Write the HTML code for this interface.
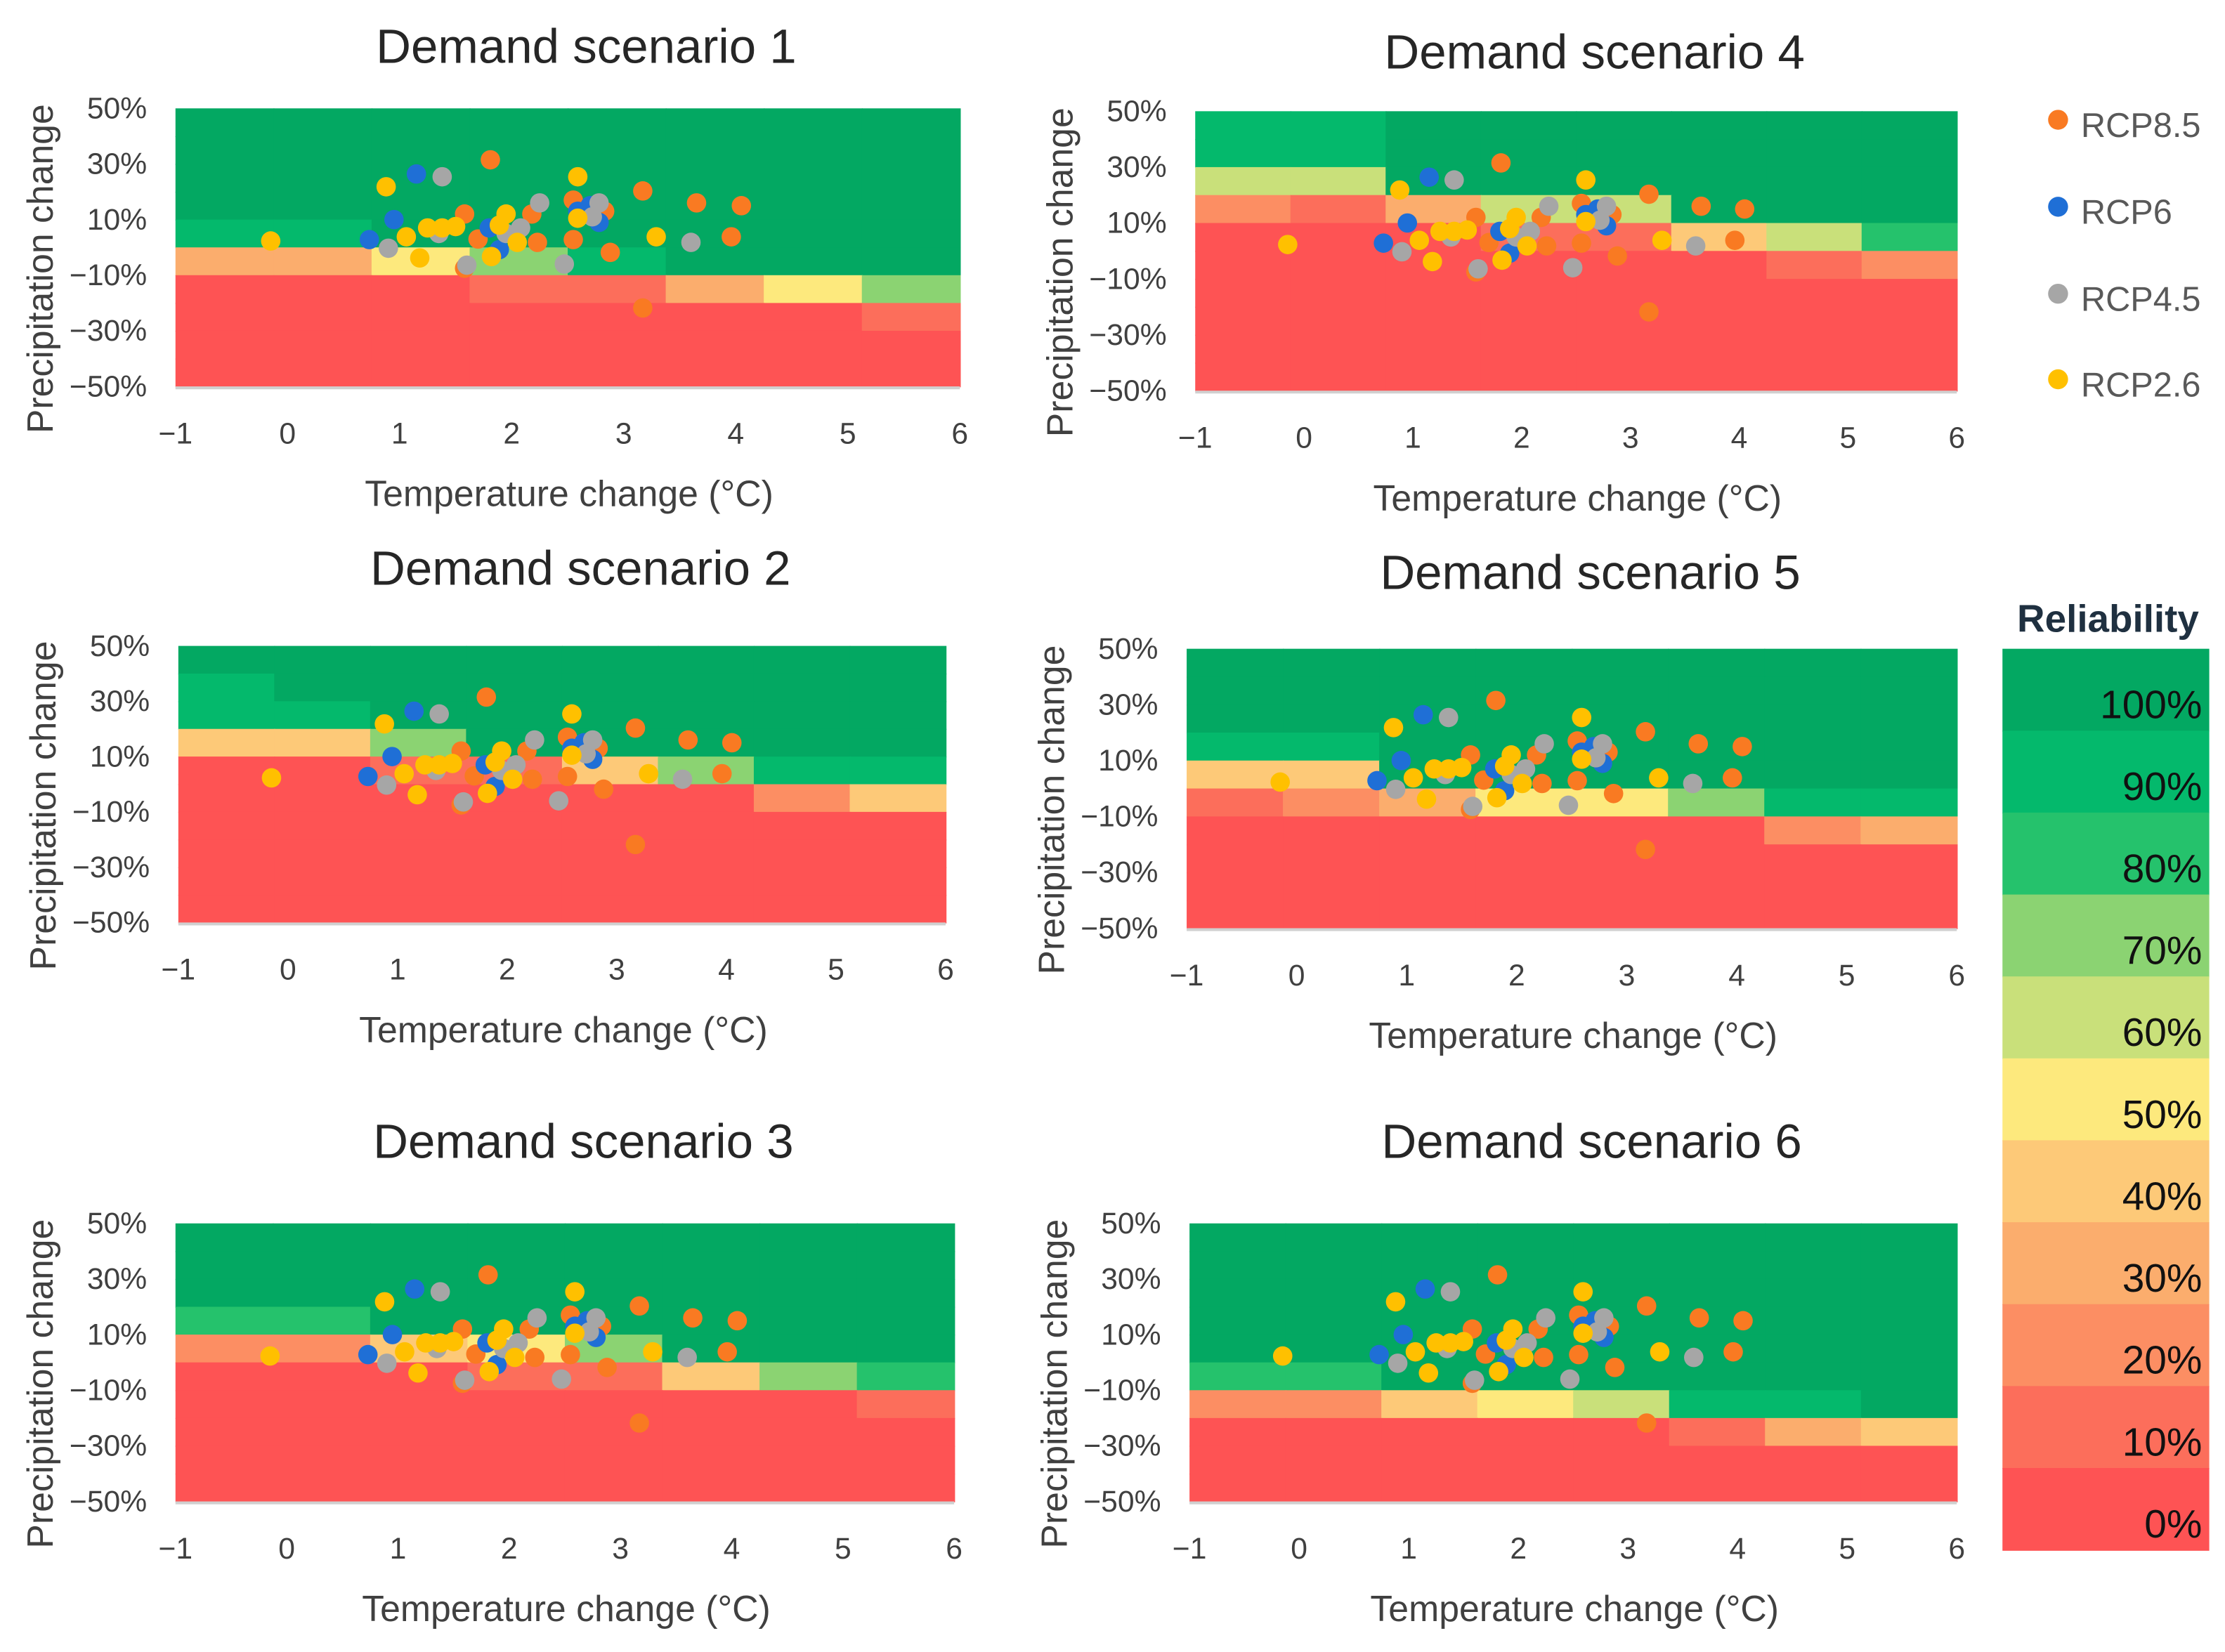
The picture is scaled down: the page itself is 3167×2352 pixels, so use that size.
<!DOCTYPE html>
<html><head><meta charset="utf-8">
<style>
html,body{margin:0;padding:0;background:#fff;}
svg{display:block;font-family:"Liberation Sans",sans-serif;}
</style></head>
<body>
<svg id="chart" width="3167" height="2352" viewBox="0 0 1560 1158.6" xmlns="http://www.w3.org/2000/svg"></svg>
<script>
// ---- data ----
const xTicks = [-1,0,1,2,3,4,5,6];
const yTicks = [50,30,10,-10,-30,-50];
const yTickLabels = ["50%","30%","10%","-10%","-30%","-50%"];
const legendLevels = [100,90,80,70,60,50,40,30,20,10,0];
const legendLabels = ["100%","90%","80%","70%","60%","50%","40%","30%","20%","10%","0%"];
const seriesNames = ["RCP8.5","RCP6","RCP4.5","RCP2.6"];
// reliability grids: 10 rows (50% to -50%, 10% steps) x 8 temperature columns
const grid1 = [
[100,100,100,100,100,100,100,100],[100,100,100,100,100,100,100,100],
[100,100,100,100,100,100,100,100],[100,100,100,100,100,100,100,100],
[90,90,100,100,100,100,100,100],[30,30,50,70,90,100,100,100],
[0,0,0,10,10,30,50,70],[0,0,0,0,0,0,0,10],[0,0,0,0,0,0,0,0],[0,0,0,0,0,0,0,0]];
const grid2 = [
[100,100,100,100,100,100,100,100],[90,100,100,100,100,100,100,100],
[90,90,100,100,100,100,100,100],[40,40,70,100,100,100,100,100],
[0,0,10,10,40,70,90,90],[0,0,0,0,0,0,20,40],
[0,0,0,0,0,0,0,0],[0,0,0,0,0,0,0,0],[0,0,0,0,0,0,0,0],[0,0,0,0,0,0,0,0]];
const grid3 = [
[100,100,100,100,100,100,100,100],[100,100,100,100,100,100,100,100],
[100,100,100,100,100,100,100,100],[80,80,100,100,100,100,100,100],
[20,20,40,50,70,100,100,100],[0,0,0,10,10,40,70,80],
[0,0,0,0,0,0,0,10],[0,0,0,0,0,0,0,0],[0,0,0,0,0,0,0,0],[0,0,0,0,0,0,0,0]];
const grid4 = [
[90,90,100,100,100,100,100,100],[90,90,100,100,100,100,100,100],
[60,60,100,100,100,100,100,100],[20,10,30,60,60,100,100,100],
[0,0,0,10,10,40,60,80],[0,0,0,0,0,0,10,20],
[0,0,0,0,0,0,0,0],[0,0,0,0,0,0,0,0],[0,0,0,0,0,0,0,0],[0,0,0,0,0,0,0,0]];
const grid5 = [
[100,100,100,100,100,100,100,100],[100,100,100,100,100,100,100,100],
[100,100,100,100,100,100,100,100],[90,90,100,100,100,100,100,100],
[40,40,100,100,100,100,100,100],[10,20,30,50,50,70,90,90],
[0,0,0,0,0,0,20,30],[0,0,0,0,0,0,0,0],[0,0,0,0,0,0,0,0],[0,0,0,0,0,0,0,0]];
const grid6 = [
[100,100,100,100,100,100,100,100],[100,100,100,100,100,100,100,100],
[100,100,100,100,100,100,100,100],[100,100,100,100,100,100,100,100],
[100,100,100,100,100,100,100,100],[80,80,100,100,100,100,100,100],
[20,20,40,50,60,90,90,100],[0,0,0,0,0,10,30,40],[0,0,0,0,0,0,0,0],[0,0,0,0,0,0,0,0]];
// projections (temperature change °C, precipitation change %)
const rcp85T = [1.81,3.17,3.65,4.05,3.96,2.88,2.55,2.55,2.65,1.58,2.18,1.70,2.23,3.17,1.58,2.83];
const rcp85P = [31.5,20.3,16,15,3.8,-1.8,2.8,17,12,12,12,3,1.8,-21.8,-7.5,13];
const rcp6T = [1.15,0.95,0.73,1.80,2.59,2.78,1.89,2.70];
const rcp6P = [26.4,10,2.8,7,13,9,-0.8,15];
const rcp45T = [1.38,0.90,2.25,2.47,3.60,1.60,2.78,2.08,2.72,1.95,1.35];
const rcp45P = [25.4,-0.3,16,-6,1.8,-6.4,16,7,11,5,5];
const rcp26T = [0.88,-0.15,2.59,1.18,3.29,1.06,1.25,1.38,1.89,1.82,2.05,2.59,1.95,1.50];
const rcp26P = [21.8,2.3,25.4,-3.8,3.8,3.8,7,7,8,-3.3,1.8,10.5,12,7.5];

const colors = {100:"#03a862",90:"#04b96c",80:"#25c26c",70:"#8bd372",60:"#c9e07a",50:"#fde97d",40:"#fdc978",30:"#fbad6d",20:"#fc8e63",10:"#fc6e5b",0:"#fe5354"};
const seriesColors = ["#f97a22","#1f6fd6","#a6a6a6","#ffc000"];

const NS="http://www.w3.org/2000/svg";
const svg=document.getElementById('chart');
function mk(tag,attrs,parent){const e=document.createElementNS(NS,tag);for(const k in attrs)e.setAttribute(k,attrs[k]);(parent||svg).appendChild(e);return e;}

const panels=[
 {title:"Demand scenario 1",grid:grid1,x0:123,x1:673,y0:76,y1:271,ty:33},
 {title:"Demand scenario 2",grid:grid2,x0:125,x1:663,y0:453,y1:647,ty:399},
 {title:"Demand scenario 3",grid:grid3,x0:123,x1:669,y0:858,y1:1053,ty:801},
 {title:"Demand scenario 4",grid:grid4,x0:838,x1:1372,y0:78,y1:274,ty:37},
 {title:"Demand scenario 5",grid:grid5,x0:832,x1:1372,y0:455,y1:651,ty:402},
 {title:"Demand scenario 6",grid:grid6,x0:834,x1:1372,y0:858,y1:1053,ty:801}
];
const seriesT=[rcp85T,rcp6T,rcp45T,rcp26T];
const seriesP=[rcp85P,rcp6P,rcp45P,rcp26P];

panels.forEach((p,i)=>{
  const g=mk('g',{});
  
  
  const sx=v=>p.x0+(v+1)/7*(p.x1-p.x0);
  const sy=v=>p.y0+(50-v)/100*(p.y1-p.y0);
  const t=mk('text',{x:(p.x0+p.x1)/2+13,y:p.ty+11,'text-anchor':'middle','font-size':34,fill:'#262626'},g);
  t.textContent=p.title;
  
  
  const cw=(p.x1-p.x0)/8;
  p.grid.forEach((row,r)=>row.forEach((v,c)=>{
    const rc=mk('rect',{x:p.x0+c*cw,y:sy(50-r*10),width:cw+0.6,height:sy(40-r*10)-sy(50-r*10)+0.6,fill:colors[v]},g);
    
    
  }));
  const ax=mk('line',{x1:p.x0,x2:p.x1,y1:p.y1+1,y2:p.y1+1,stroke:'#d0d0d0','stroke-width':2},g);
  
  
  xTicks.forEach(v=>{
    const tl=mk('text',{x:sx(v),y:p.y1+40,'text-anchor':'middle','font-size':21,fill:'#404040'},g);
    tl.textContent=v<0?'\u2212'+Math.abs(v):String(v);
    
    
  });
  yTicks.forEach((v,k)=>{
    const tl=mk('text',{x:p.x0-20,y:sy(v)+7,'text-anchor':'end','font-size':21,fill:'#404040'},g);
    tl.textContent=yTickLabels[k].replace('-','\u2212');
    
    
  });
  const xt=mk('text',{x:(p.x0+p.x1)/2+1,y:p.y1+84,'text-anchor':'middle','font-size':25.5,fill:'#404040'},g);
  xt.textContent='Temperature change (°C)';
  
  
  const cy=(p.y0+p.y1)/2+15, cx=p.x0-86;
  const yt=mk('text',{x:cx,y:cy,'text-anchor':'middle','font-size':25.5,fill:'#404040',transform:`rotate(-90 ${cx} ${cy})`},g);
  yt.textContent='Precipitation change';
  
  
  seriesT.forEach((ts,s)=>ts.forEach((tv,k)=>{
    const d=mk('circle',{cx:sx(tv),cy:sy(seriesP[s][k]),r:6.8,fill:seriesColors[s]},g);
    
    
  }));
});

// series legend
seriesNames.forEach((n,i)=>{
  const y=[84,145,206,266][i];
  const c=mk('circle',{cx:1443,cy:y,r:7,fill:seriesColors[i]});
  
  
  const t=mk('text',{x:1459,y:y+12,'font-size':24,fill:'#595959'});
  t.textContent=n;
  
  
});
// color bar
const hdr=mk('text',{x:1478,y:443,'text-anchor':'middle','font-size':27,'font-weight':'bold',fill:'#1f3040'});
hdr.textContent='Reliability';


const bh=(1087-455)/11;
legendLevels.forEach((v,i)=>{
  const r=mk('rect',{x:1404,y:455+i*bh,width:145,height:bh+0.6,fill:colors[v]});
  
  
  const t=mk('text',{x:1544,y:455+i*bh+bh/2+20,'text-anchor':'end','font-size':28,fill:'#111'});
  t.textContent=legendLabels[i];
  
  
});
</script>
</body></html>
